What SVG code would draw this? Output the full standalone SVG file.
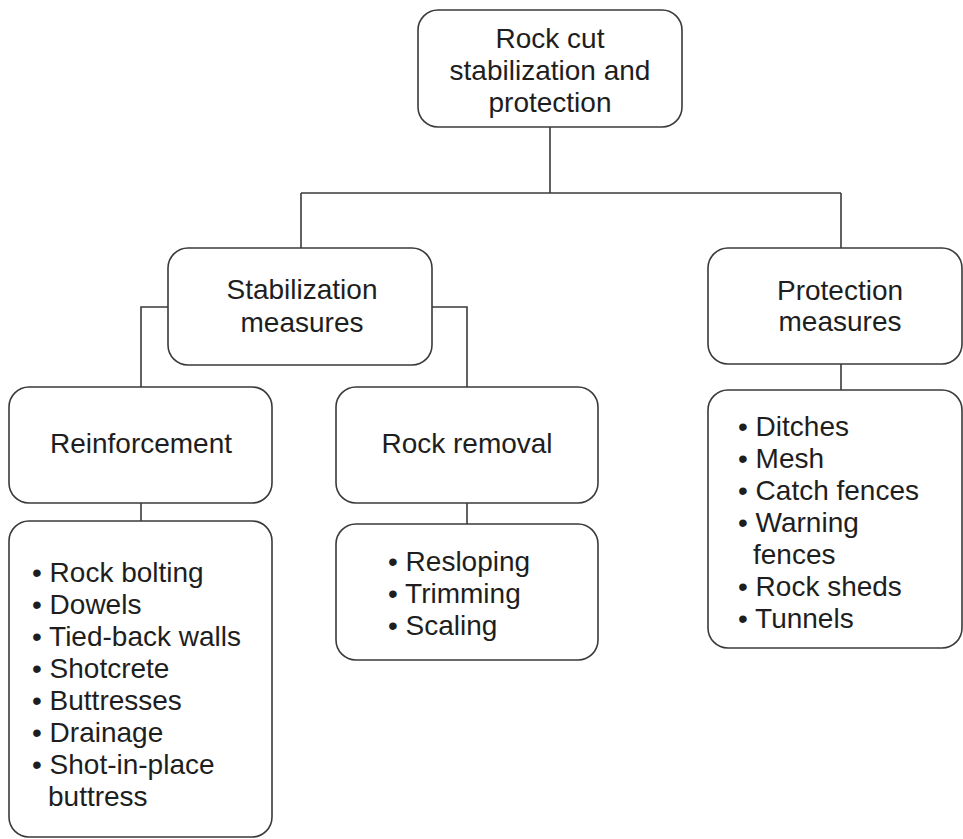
<svg xmlns="http://www.w3.org/2000/svg" width="963" height="839" viewBox="0 0 963 839">
  <style>
    .box { fill: #ffffff; stroke: #3a3a3a; stroke-width: 1.6; }
    .link { fill: none; stroke: #3a3a3a; stroke-width: 1.6; }
    text { font-family: "Liberation Sans", Arial, Helvetica, sans-serif; font-size: 28px; fill: #1e1e1e; }
    .c { text-anchor: middle; }
  </style>
  <rect width="963" height="839" fill="#ffffff"/>

  <!-- connectors -->
  <g id="connectors">
    <path class="link" d="M550 127 V193"/>
    <path class="link" d="M301 193 H841"/>
    <path class="link" d="M301 193 V248"/>
    <path class="link" d="M841 193 V248"/>
    <path class="link" d="M168 307 H141 V387"/>
    <path class="link" d="M432 307 H467 V387"/>
    <path class="link" d="M141 503 V521"/>
    <path class="link" d="M467 503 V524"/>
    <path class="link" d="M841 364 V390"/>
  </g>

  <g id="root">
    <rect class="box" x="418" y="10" width="264" height="117" rx="20"/>
    <text class="c" x="550" y="48">Rock cut</text>
    <text class="c" x="550" y="80">stabilization and</text>
    <text class="c" x="550" y="112">protection</text>
  </g>

  <g id="stabilization">
    <rect class="box" x="168" y="248" width="264" height="117" rx="20"/>
    <text class="c" x="302" y="299">Stabilization</text>
    <text class="c" x="302" y="332">measures</text>
  </g>

  <g id="protection">
    <rect class="box" x="708" y="248" width="254" height="116" rx="20"/>
    <text class="c" x="840" y="300">Protection</text>
    <text class="c" x="840" y="331">measures</text>
  </g>

  <g id="reinforcement">
    <rect class="box" x="9" y="387" width="263" height="116" rx="20"/>
    <text class="c" x="141" y="453">Reinforcement</text>
  </g>

  <g id="rock-removal">
    <rect class="box" x="336" y="387" width="262" height="116" rx="20"/>
    <text class="c" x="467" y="453">Rock removal</text>
  </g>

  <g id="reinforcement-list">
    <rect class="box" x="9" y="521" width="263" height="316" rx="20"/>
    <text x="32" y="582">• Rock bolting</text>
    <text x="32" y="614">• Dowels</text>
    <text x="32" y="646">• Tied-back walls</text>
    <text x="32" y="678">• Shotcrete</text>
    <text x="32" y="710">• Buttresses</text>
    <text x="32" y="742">• Drainage</text>
    <text x="32" y="774">• Shot-in-place</text>
    <text x="48" y="806">buttress</text>
  </g>

  <g id="removal-list">
    <rect class="box" x="336" y="524" width="262" height="136" rx="20"/>
    <text x="388" y="571">• Resloping</text>
    <text x="388" y="603">• Trimming</text>
    <text x="388" y="635">• Scaling</text>
  </g>

  <g id="protection-list">
    <rect class="box" x="708" y="390" width="254" height="258" rx="20"/>
    <text x="738" y="436">• Ditches</text>
    <text x="738" y="468">• Mesh</text>
    <text x="738" y="500">• Catch fences</text>
    <text x="738" y="532">• Warning</text>
    <text x="753" y="564">fences</text>
    <text x="738" y="596">• Rock sheds</text>
    <text x="738" y="628">• Tunnels</text>
  </g>
</svg>
